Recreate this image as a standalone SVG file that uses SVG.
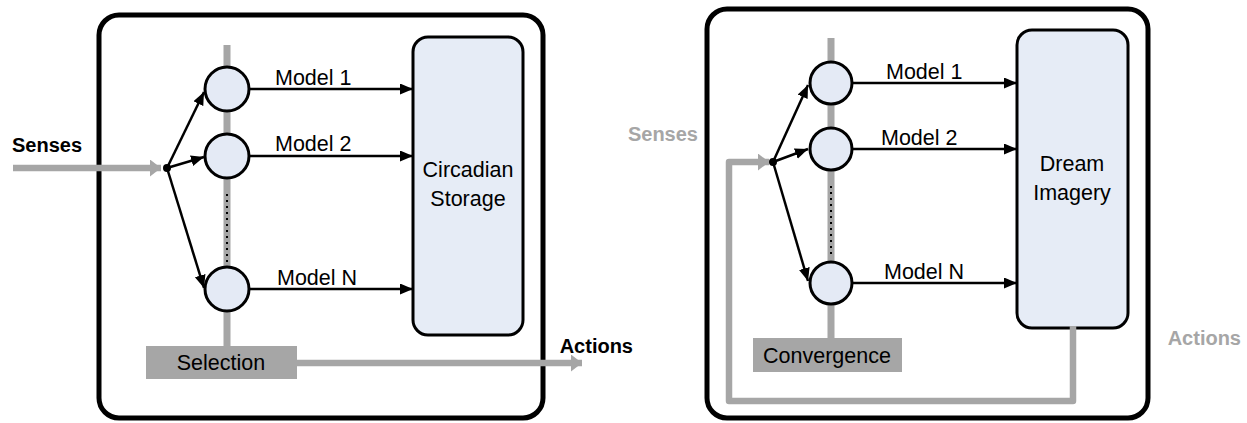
<svg xmlns="http://www.w3.org/2000/svg" width="1247" height="423" viewBox="0 0 1247 423">
  <style>
    .frame { fill: #ffffff; stroke: #000000; stroke-width: 5; }
    .bus { stroke: #A6A6A6; stroke-width: 7; fill: none; }
    .dots { stroke: #000000; stroke-width: 2; stroke-dasharray: 2 4; fill: none; }
    .model { fill: #E4EAF5; stroke: #000000; stroke-width: 3; }
    .store { fill: #E6ECF6; stroke: #000000; stroke-width: 3; }
    .gate { fill: #A6A6A6; }
    .edge { stroke: #000000; stroke-width: 2.5; fill: none; marker-end: url(#arrowBlack); }
    .flow { stroke: #A6A6A6; stroke-width: 6.5; fill: none; marker-end: url(#arrowGray); }
    .lbl { font-family: "Liberation Sans", Arial, sans-serif; font-size: 21.5px; fill: #000000; }
    .mid { text-anchor: middle; }
    .end { text-anchor: end; }
    .io { font-family: "Liberation Sans", Arial, sans-serif; font-size: 20px; font-weight: bold; }
    .dark { fill: #000000; }
    .light { fill: #A6A6A6; }
  </style>
  <defs>
    <marker id="arrowBlack" markerUnits="userSpaceOnUse" markerWidth="14" markerHeight="12" refX="13" refY="5.5" orient="auto">
      <path d="M0,0 L13,5.5 L0,11 z" fill="#000000"/>
    </marker>
    <marker id="arrowGray" markerUnits="userSpaceOnUse" markerWidth="12" markerHeight="18" refX="11" refY="8.5" orient="auto">
      <path d="M0,0 L11,8.5 L0,17 z" fill="#A6A6A6"/>
    </marker>
  </defs>

  <!-- Left system: selection -->
  <g id="left-frame">
    <rect class="frame" x="99" y="15" width="444" height="403" rx="20"/>
  </g>
  <g id="left-bus">
    <line class="bus" x1="227" y1="45" x2="227" y2="346"/>
    <line class="dots" x1="227" y1="194" x2="227" y2="266"/>
  </g>
  <g id="left-model-1">
    <circle class="model" cx="227" cy="89" r="22"/>
  </g>
  <g id="left-model-2">
    <circle class="model" cx="227" cy="156" r="22"/>
  </g>
  <g id="left-model-n">
    <circle class="model" cx="227" cy="289" r="22"/>
  </g>
  <g id="left-storage">
    <rect class="store" x="413" y="37" width="110" height="298" rx="15"/>
    <text class="lbl mid" x="468" y="177">Circadian</text>
    <text class="lbl mid" x="468" y="206">Storage</text>
  </g>
  <g id="left-selection">
    <rect class="gate" x="146" y="346" width="151" height="33"/>
    <text class="lbl mid" x="221" y="370">Selection</text>
  </g>
  <g id="left-junction">
    <circle cx="167" cy="168" r="4" fill="#000000"/>
  </g>
  <g id="left-labels">
    <text class="io dark" x="12" y="152">Senses</text>
    <text class="io dark end" x="633" y="353">Actions</text>
    <text class="lbl" x="275" y="85">Model 1</text>
    <text class="lbl" x="275" y="151">Model 2</text>
    <text class="lbl" x="277" y="285">Model N</text>
  </g>
  <g id="left-connectors">
    <line class="flow" x1="13" y1="168" x2="161" y2="168"/>
    <line class="flow" x1="297" y1="363" x2="582" y2="363"/>
    <line class="edge" x1="167" y1="168" x2="204" y2="92"/>
    <line class="edge" x1="167" y1="168" x2="204" y2="157"/>
    <line class="edge" x1="167" y1="168" x2="204" y2="288"/>
    <line class="edge" x1="249" y1="89" x2="413" y2="89"/>
    <line class="edge" x1="249" y1="156" x2="413" y2="156"/>
    <line class="edge" x1="249" y1="289" x2="413" y2="289"/>
  </g>

  <!-- Right system: convergence -->
  <g id="right-frame">
    <rect class="frame" x="707" y="9" width="441" height="409" rx="20"/>
  </g>
  <g id="right-bus">
    <line class="bus" x1="831" y1="38" x2="831" y2="338"/>
    <line class="dots" x1="831" y1="186" x2="831" y2="256"/>
  </g>
  <g id="right-model-1">
    <circle class="model" cx="831" cy="83" r="21"/>
  </g>
  <g id="right-model-2">
    <circle class="model" cx="831" cy="149" r="21"/>
  </g>
  <g id="right-model-n">
    <circle class="model" cx="831" cy="283" r="21"/>
  </g>
  <g id="right-imagery">
    <rect class="store" x="1017" y="30" width="111" height="298" rx="15"/>
    <text class="lbl mid" x="1072" y="171">Dream</text>
    <text class="lbl mid" x="1072" y="200">Imagery</text>
  </g>
  <g id="right-convergence">
    <rect class="gate" x="753" y="338" width="149" height="34"/>
    <text class="lbl mid" x="827" y="363">Convergence</text>
  </g>
  <g id="right-junction">
    <circle cx="773" cy="162" r="4" fill="#000000"/>
  </g>
  <g id="right-labels">
    <text class="io light end" x="698" y="141">Senses</text>
    <text class="io light end" x="1241" y="345">Actions</text>
    <text class="lbl" x="886" y="79">Model 1</text>
    <text class="lbl" x="881" y="145">Model 2</text>
    <text class="lbl" x="884" y="279">Model N</text>
  </g>
  <g id="right-connectors">
    <path class="flow" d="M1073,326 L1073,401 L729,401 L729,162 L769,162" stroke-linejoin="round"/>
    <line class="edge" x1="773" y1="162" x2="808" y2="85"/>
    <line class="edge" x1="773" y1="162" x2="808" y2="149"/>
    <line class="edge" x1="773" y1="162" x2="808" y2="281"/>
    <line class="edge" x1="852" y1="83" x2="1017" y2="83"/>
    <line class="edge" x1="852" y1="149" x2="1017" y2="149"/>
    <line class="edge" x1="852" y1="283" x2="1017" y2="283"/>
  </g>
</svg>
